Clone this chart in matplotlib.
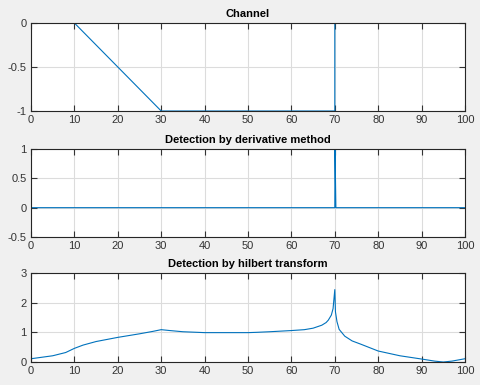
import numpy as np
import matplotlib
matplotlib.use("Agg")
import matplotlib.pyplot as plt

# channel: piecewise linear breakpoints
chan_x = [0, 10, 30, 70, 70, 100]
chan_y = [0, 0, -1, -1, 0, 0]

# derivative method: spike at 70
deriv_x = [0, 70, 70.05, 70.25, 100]
deriv_y = [0, 0, 1, 0, 0]

# hilbert envelope
hil_x = [0, 3, 5, 8, 10, 12, 15, 20, 25, 28, 30, 32, 35, 40, 45, 50, 52, 55, 60, 63,
         65, 67, 68, 68.5, 69.2, 69.6, 70, 70.15, 70.5, 71, 72.3, 74, 76, 80, 85, 90,
         93, 95, 97, 100]
hil_y = [0.11, 0.17, 0.21, 0.32, 0.46, 0.57, 0.69, 0.83, 0.95, 1.03, 1.09, 1.06, 1.02,
         0.99, 0.99, 0.99, 1.0, 1.02, 1.06, 1.09, 1.14, 1.24, 1.33, 1.41, 1.58, 1.8,
         2.44, 1.69, 1.36, 1.1, 0.87, 0.71, 0.6, 0.37, 0.21, 0.10, 0.03, 0.0, 0.03, 0.11]

xticks = np.arange(0, 101, 10)

plt.rcParams['font.family'] = ['Liberation Sans', 'DejaVu Sans']
plt.rcParams['axes.unicode_minus'] = False

fig = plt.figure(figsize=(4.8, 3.85), dpi=100, facecolor='#f0f0f0')
W, H = 480.0, 385.0
boxes = [(31, 23, 465, 111), (31, 149, 465, 237), (31, 273, 465, 362)]
panels = [
    (chan_x, chan_y, 'Channel', (-1, 0), [-1, -0.5, 0]),
    (deriv_x, deriv_y, 'Detection by derivative method', (-0.5, 1), [-0.5, 0, 0.5, 1]),
    (hil_x, hil_y, 'Detection by hilbert transform', (0, 3), [0, 1, 2, 3]),
]

for (l, t, r, b), (x, y, title, ylim, yt) in zip(boxes, panels):
    ax = fig.add_axes([l / W, 1 - b / H, (r - l) / W, (b - t) / H])
    ax.plot(x, y, color='#0072bd', lw=0.8)
    ax.set_xlim(0, 100)
    ax.set_ylim(*ylim)
    ax.set_xticks(xticks)
    ax.set_yticks(yt)
    ax.set_yticklabels([('%g' % v) for v in yt])
    ax.grid(True, color='#dcdcdc', lw=0.8)
    ax.set_axisbelow(True)
    ax.tick_params(direction='in', top=True, right=True, length=4, width=0.8,
                   labelsize=8, colors='#333333', pad=3)
    for s in ax.spines.values():
        s.set_color('#262626')
        s.set_linewidth(0.8)
    ax.set_title(title, fontsize=8, fontweight='bold', pad=4)

fig.savefig('out.png', dpi=100, facecolor=fig.get_facecolor())
